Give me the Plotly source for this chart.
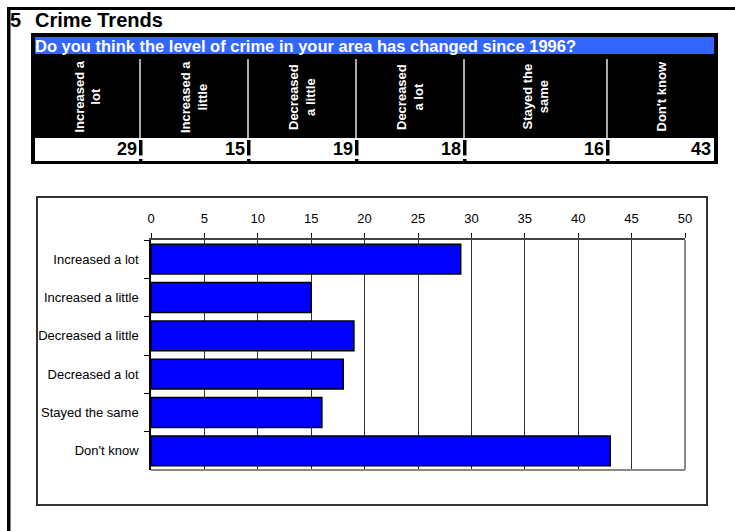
import plotly.graph_objects as go

# Survey responses: "Do you think the level of crime in your area has changed since 1996?"
categories = ["Increased a lot", "Increased a little", "Decreased a little",
              "Decreased a lot", "Stayed the same", "Don't know"]
header_labels = ["Increased a<br>lot", "Increased a<br>little", "Decreased<br>a little",
                 "Decreased<br>a lot", "Stayed the<br>same", "Don't know"]
values = [29, 15, 19, 18, 16, 43]
x_ticks = [0, 5, 10, 15, 20, 25, 30, 35, 40, 45, 50]

section_no = "5"
section_title = "Crime Trends"
question = "Do you think the level of crime in your area has changed since 1996?"

W, H = 735, 531
FONT = "Arial, Liberation Sans, sans-serif"


def px(x):
    return x / W


def py(y):
    return 1 - y / H


def rect(x0, y0, x1, y1, fill, line_color=None, line_width=0):
    return dict(type="rect", xref="paper", yref="paper",
                x0=px(x0), x1=px(x1), y0=py(y0), y1=py(y1),
                fillcolor=fill, layer="below",
                line=dict(color=line_color or fill, width=line_width))


def vline(x, y0, y1, color, width):
    return dict(type="line", xref="paper", yref="paper",
                x0=px(x), x1=px(x), y0=py(y0), y1=py(y1),
                line=dict(color=color, width=width), layer="below")


fig = go.Figure()

fig.add_trace(go.Bar(
    x=values, y=categories, orientation="h",
    marker=dict(color="#0000FF", line=dict(color="#000000", width=1.5)),
    hoverinfo="x+y",
))

shapes = []
annotations = []

# page frame: heavy rule along the top and left edges
shapes.append(rect(7, 7, 735, 10, "#000000"))
shapes.append(rect(7, 7, 10.5, 531, "#000000"))

# summary table
shapes.append(rect(31, 33, 718, 164, "#000000"))
shapes.append(rect(35, 37, 714, 54, "#3366FF"))
shapes.append(rect(35, 138, 714, 161, "#FFFFFF"))

col_edges = [35, 140, 248, 356, 464, 607, 714]
for sep in col_edges[1:-1]:
    shapes.append(vline(sep, 59, 138, "#AAAAAA", 2))
    shapes.append(rect(sep - 1, 140, sep + 2.5, 155.5, "#000000"))
    shapes.append(rect(sep - 1, 159, sep + 2.5, 161, "#000000"))

for i, (lab, val) in enumerate(zip(header_labels, values)):
    left, right = col_edges[i], col_edges[i + 1]
    annotations.append(dict(
        xref="paper", yref="paper", x=px((left + right) / 2), y=py(97),
        text=f"<b>{lab}</b>", textangle=-90, showarrow=False,
        xanchor="center", yanchor="middle",
        font=dict(family=FONT, size=13, color="#FFFFFF"),
    ))
    annotations.append(dict(
        xref="paper", yref="paper", x=px(right - 1), y=py(149.5),
        text=f"<b>{val}</b>", showarrow=False,
        xanchor="right", yanchor="middle",
        font=dict(family=FONT, size=18, color="#000000"),
    ))

# headings
annotations.append(dict(
    xref="paper", yref="paper", x=px(8), y=py(20.5), text=f"<b>{section_no}</b>",
    showarrow=False, xanchor="left", yanchor="middle",
    font=dict(family=FONT, size=20, color="#000000"),
))
annotations.append(dict(
    xref="paper", yref="paper", x=px(33), y=py(20.5), text=f"<b>{section_title}</b>",
    showarrow=False, xanchor="left", yanchor="middle",
    font=dict(family=FONT, size=20, color="#000000"),
))
annotations.append(dict(
    xref="paper", yref="paper", x=px(33), y=py(45.5), text=f"<b>{question}</b>",
    showarrow=False, xanchor="left", yanchor="middle",
    font=dict(family=FONT, size=16.5, color="#FFFFFF"),
))

# chart box
shapes.append(dict(type="rect", xref="paper", yref="paper",
                   x0=px(37), x1=px(707), y0=py(197), y1=py(505),
                   line=dict(color="#333333", width=2), fillcolor="rgba(0,0,0,0)",
                   layer="below"))

# grey right and bottom edges of the plot area
shapes.append(dict(type="line", xref="x domain", yref="y domain",
                   x0=1, x1=1, y0=0, y1=1, line=dict(color="#888888", width=2)))
shapes.append(dict(type="line", xref="x domain", yref="y domain",
                   x0=0, x1=1, y0=0, y1=0, line=dict(color="#888888", width=2)))

fig.update_layout(
    width=W, height=H, autosize=False,
    margin=dict(l=0, r=0, t=0, b=0, pad=0, autoexpand=False),
    paper_bgcolor="#FFFFFF", plot_bgcolor="#FFFFFF",
    showlegend=False,
    bargap=0.22,
    font=dict(family=FONT, size=13, color="#000000"),
    shapes=shapes,
    annotations=annotations,
    xaxis=dict(
        domain=[px(151), px(685)],
        range=[0, 50], side="top",
        tickmode="array", tickvals=x_ticks,
        ticks="outside", ticklen=5, tickwidth=1, tickcolor="#000000",
        ticklabelstandoff=5,
        showgrid=True, gridcolor="#333333", gridwidth=1,
        showline=True, linecolor="#444444", linewidth=2,
        zeroline=False,
        tickfont=dict(family=FONT, size=13, color="#000000"),
        fixedrange=True,
    ),
    yaxis=dict(
        domain=[py(470), py(240)],
        type="category", categoryorder="array", categoryarray=categories,
        autorange="reversed",
        tickson="boundaries", ticks="outside", ticklen=5, tickcolor="#000000",
        ticklabelstandoff=8,
        showgrid=False,
        showline=True, linecolor="#000000", linewidth=1.5,
        tickfont=dict(family=FONT, size=13, color="#000000"),
        fixedrange=True,
    ),
)

fig.write_html(
    "out.html",
    config={"responsive": False, "displayModeBar": False},
    post_script="document.body.style.margin='0';document.body.style.overflow='hidden';",
)
